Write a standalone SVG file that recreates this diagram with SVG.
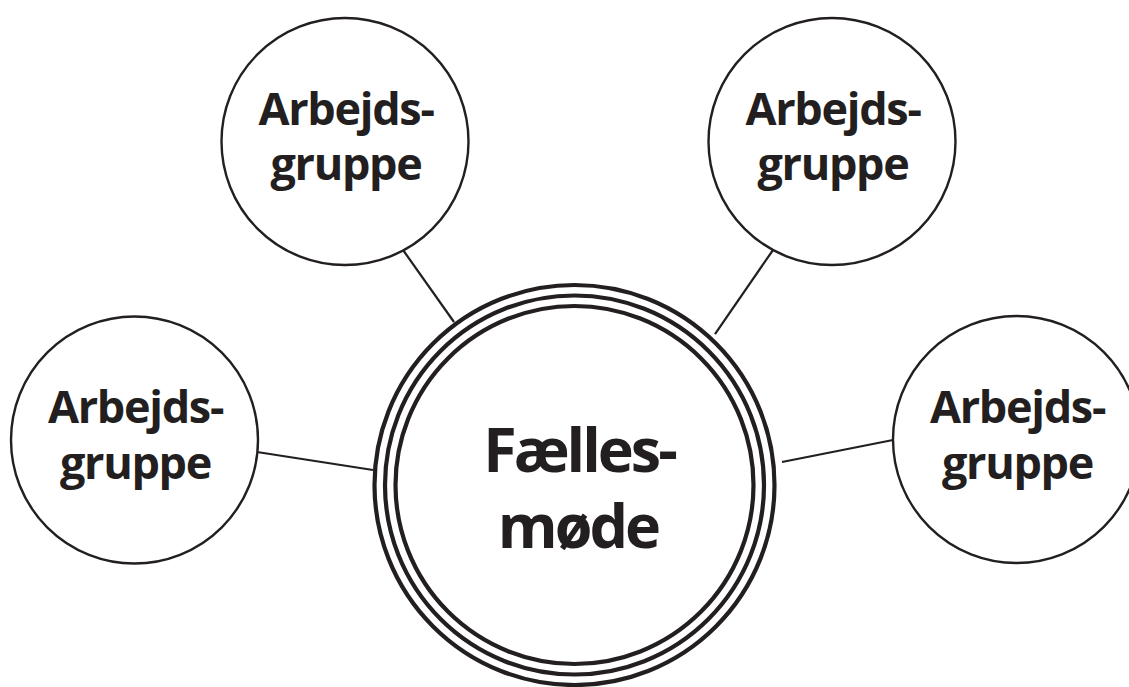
<svg xmlns="http://www.w3.org/2000/svg" width="1129" height="687" viewBox="0 0 1129 687">
<style>
.bg{fill:#ffffff}
.node{fill:#ffffff;stroke:#231f20;stroke-width:2.4}
.ring{fill:none;stroke:#231f20;stroke-width:4.2}
.conn{stroke:#231f20;stroke-width:2.2;fill:none}
.lbl{font-family:"Open Sans","Liberation Sans",sans-serif;font-weight:700;font-size:45px;letter-spacing:-1.3px;fill:#231f20;text-anchor:middle}
.big{font-family:"Open Sans","Liberation Sans",sans-serif;font-weight:700;font-size:61px;letter-spacing:-3px;fill:#231f20;text-anchor:middle}
</style>
<rect class="bg" x="0" y="0" width="1129" height="687"/>
<g id="connectors">
<line class="conn" x1="403" y1="250" x2="454" y2="322"/>
<line class="conn" x1="773" y1="250" x2="715" y2="334"/>
<line class="conn" x1="257" y1="452" x2="373" y2="470"/>
<line class="conn" x1="782" y1="462" x2="893" y2="440"/>
</g>
<g id="center">
<circle class="ring" cx="574.5" cy="485" r="200"/>
<circle class="ring" cx="574.5" cy="485" r="189.5"/>
<circle class="ring" cx="574.5" cy="485" r="179"/>
<text class="big" x="579" y="472">Fælles-</text>
<text class="big" x="578" y="548">møde</text>
</g>
<g id="group-top-left">
<circle class="node" cx="345" cy="141.5" r="123.5"/>
<text class="lbl" x="346" y="125">Arbejds-</text>
<text class="lbl" x="346" y="180">gruppe</text>
</g>
<g id="group-top-right">
<circle class="node" cx="832" cy="141.5" r="123.5"/>
<text class="lbl" x="833" y="125">Arbejds-</text>
<text class="lbl" x="833" y="180">gruppe</text>
</g>
<g id="group-left">
<circle class="node" cx="134.5" cy="440" r="123.5"/>
<text class="lbl" x="135.5" y="423">Arbejds-</text>
<text class="lbl" x="135.5" y="479">gruppe</text>
</g>
<g id="group-right">
<circle class="node" cx="1016.5" cy="439.5" r="123.5"/>
<text class="lbl" x="1017.5" y="423">Arbejds-</text>
<text class="lbl" x="1017.5" y="479">gruppe</text>
</g>
</svg>
